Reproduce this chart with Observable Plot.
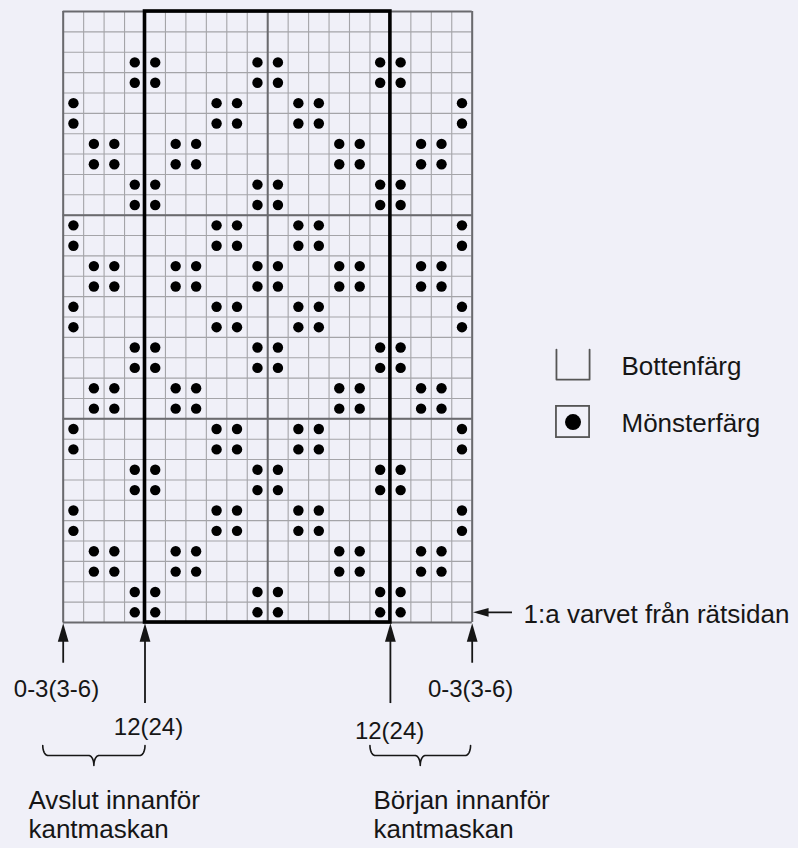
<!DOCTYPE html>
<html>
<head>
<meta charset="utf-8">
<script src="https://cdn.jsdelivr.net/npm/d3@7"></script>
<script src="https://cdn.jsdelivr.net/npm/@observablehq/plot@0.6"></script>
<style>
  html, body { margin: 0; padding: 0; background: #f0f0f8; }
  #chart svg { display: block; }
</style>
</head>
<body>
<div id="chart"></div>
<script>
// ---- data ----------------------------------------------------------
// Knitting chart, top row first ("X" = Mönsterfärg, "." = Bottenfärg).
// The bottom row is the 1st row, knitted from the right side.
const chartRows = [
  "....................",
  "....................",
  "...XX....XX....XX...",
  "...XX....XX....XX...",
  "X......XX..XX......X",
  "X......XX..XX......X",
  ".XX..XX......XX..XX.",
  ".XX..XX......XX..XX.",
  "...XX....XX....XX...",
  "...XX....XX....XX...",
  "X......XX..XX......X",
  "X......XX..XX......X",
  ".XX..XX..XX..XX..XX.",
  ".XX..XX..XX..XX..XX.",
  "X......XX..XX......X",
  "X......XX..XX......X",
  "...XX....XX....XX...",
  "...XX....XX....XX...",
  ".XX..XX......XX..XX.",
  ".XX..XX......XX..XX.",
  "X......XX..XX......X",
  "X......XX..XX......X",
  "...XX....XX....XX...",
  "...XX....XX....XX...",
  "X......XX..XX......X",
  "X......XX..XX......X",
  ".XX..XX......XX..XX.",
  ".XX..XX......XX..XX.",
  "...XX....XX....XX...",
  "...XX....XX....XX..."
];
const stitchCount = 20;
const rowCount = 30;
const majorStep = 10;                 // darker line every 10 stitches / rows
const repeatBounds = [4, 16];         // bold pattern repeat
const stitchMarks = [0, 4, 16, 20];   // arrows under the chart
const stitchLabels = ["0-3(3-6)", "12(24)", "12(24)", "0-3(3-6)"];
const firstRowLabel = "1:a varvet från rätsidan";
const braceLabels = ["Avslut innanför\nkantmaskan", "Början innanför\nkantmaskan"];
const legendLabels = ["Bottenfärg", "Mönsterfärg"];

// ---- derived tables --------------------------------------------------
const cells = [];
chartRows.forEach((row, r) => {
  [...row].forEach((ch, c) => { if (ch === "X") cells.push({col: c, row: r}); });
});

function brace(x1, x2, top, bottom, id) {
  const mid = (top + bottom) / 2, c = (x1 + x2) / 2, rx = 0.25, ry = mid - top;
  const pts = [];
  const arc = (cx, cy, a0, a1) => {
    for (let i = 0; i <= 10; i++) {
      const a = a0 + (a1 - a0) * i / 10;
      pts.push({id, x: cx + rx * Math.cos(a), y: cy + ry * Math.sin(a)});
    }
  };
  arc(x1 + rx, top, Math.PI, Math.PI / 2);
  arc(c - rx, bottom, -Math.PI / 2, 0);
  arc(c + rx, bottom, Math.PI, 1.5 * Math.PI);
  arc(x2 - rx, top, Math.PI / 2, 0);
  return pts;
}
const braces = [
  ...brace(-1.0, repeatBounds[0], 36.04, 37.02, 0),
  ...brace(15.0, 19.92, 36.04, 37.02, 1)
];

const headUp = {draw(ctx) { ctx.moveTo(0, -9.2); ctx.lineTo(5.4, 9.2); ctx.lineTo(-5.4, 9.2); ctx.closePath(); }};
const headLeft = {draw(ctx) { ctx.moveTo(-7.8, 0); ctx.lineTo(7.8, -4.4); ctx.lineTo(7.8, 4.4); ctx.closePath(); }};

const ink = "#161616";
const font = "'Liberation Sans', Arial, Helvetica, sans-serif";

const chart = Plot.plot({
  width: 798,
  height: 848,
  margin: 0,
  x: {domain: [0, stitchCount], range: [62.7, 471.7], axis: null},
  y: {domain: [0, rowCount], range: [11, 622], axis: null},
  style: {background: "#f0f0f8", fontFamily: font},
  marks: [
    // fine grid
    Plot.ruleX(d3.range(stitchCount + 1), {y1: 0, y2: rowCount, stroke: "#a4a4a8", strokeWidth: 1.1}),
    Plot.ruleY(d3.range(rowCount + 1), {x1: 0, x2: stitchCount, stroke: "#a4a4a8", strokeWidth: 1.1}),
    // major grid + border
    Plot.ruleX(d3.range(0, stitchCount + 1, majorStep), {y1: 0, y2: rowCount, stroke: "#6a6a6e", strokeWidth: 2}),
    Plot.ruleY(d3.range(0, rowCount + 1, majorStep), {x1: 0, x2: stitchCount, stroke: "#6a6a6e", strokeWidth: 2}),
    // repeat box
    Plot.rect([repeatBounds], {x1: d => d[0], x2: d => d[1], y1: 0, y2: rowCount, fill: "none", stroke: "#000", strokeWidth: 3.6}),
    // pattern stitches
    Plot.dot(cells, {x: d => d.col + 0.5, y: d => d.row + 0.5, r: 5.2, fill: "#000", stroke: "none"}),

    // first-row arrow
    Plot.ruleY([rowCount - 0.5], {x1: stitchCount + 0.3, x2: stitchCount + 1.97, stroke: ink, strokeWidth: 1.8}),
    Plot.dot([rowCount - 0.5], {x: stitchCount + 0.42, y: d => d, symbol: headLeft, fill: ink, stroke: "none"}),
    Plot.text([firstRowLabel], {x: stitchCount + 2.51, y: rowCount, text: d => d, textAnchor: "start", lineAnchor: "bottom", fontSize: 26, fill: ink}),

    // stitch arrows
    Plot.ruleX(stitchMarks, {x: d => d, y1: rowCount + 0.6, y2: d => (d === repeatBounds[0] || d === repeatBounds[1]) ? 33.98 : 32.0, stroke: ink, strokeWidth: 1.8}),
    Plot.dot(stitchMarks, {x: d => d, y: rowCount + 0.49, symbol: headUp, fill: ink, stroke: "none"}),
    Plot.text(stitchLabels, {
      x: (d, i) => [-0.33, 4.17, 15.96, 19.92][i],
      y: (d, i) => [33.68, 35.5, 35.74, 33.68][i],
      text: d => d, textAnchor: "middle", lineAnchor: "bottom", fontSize: 24, fill: ink
    }),

    // braces
    Plot.line(braces, {x: "x", y: "y", z: "id", stroke: ink, strokeWidth: 1.6, curve: "linear"}),
    Plot.text(braceLabels, {
      x: (d, i) => [-1.70, 15.17][i],
      y: 40.56,
      text: d => d, textAnchor: "start", lineAnchor: "bottom", lineHeight: 1.115, fontSize: 26, fill: ink
    }),

    // legend
    Plot.line([[24.12, 16.60], [24.12, 18.07], [25.74, 18.07], [25.74, 16.60]], {stroke: "#555", strokeWidth: 1.8}),
    Plot.rect([[24.12, 25.74, 19.39, 20.92]], {x1: d => d[0], x2: d => d[1], y1: d => d[2], y2: d => d[3], fill: "none", stroke: "#555", strokeWidth: 1.8}),
    Plot.dot([0], {x: 24.93, y: 20.16, r: 8, fill: "#000", stroke: "none"}),
    Plot.text(legendLabels, {
      x: 27.3,
      y: (d, i) => [17.87, 20.67][i],
      text: d => d, textAnchor: "start", lineAnchor: "bottom", fontSize: 26, fill: ink
    })
  ]
});
document.getElementById("chart").appendChild(chart);
</script>
</body>
</html>
